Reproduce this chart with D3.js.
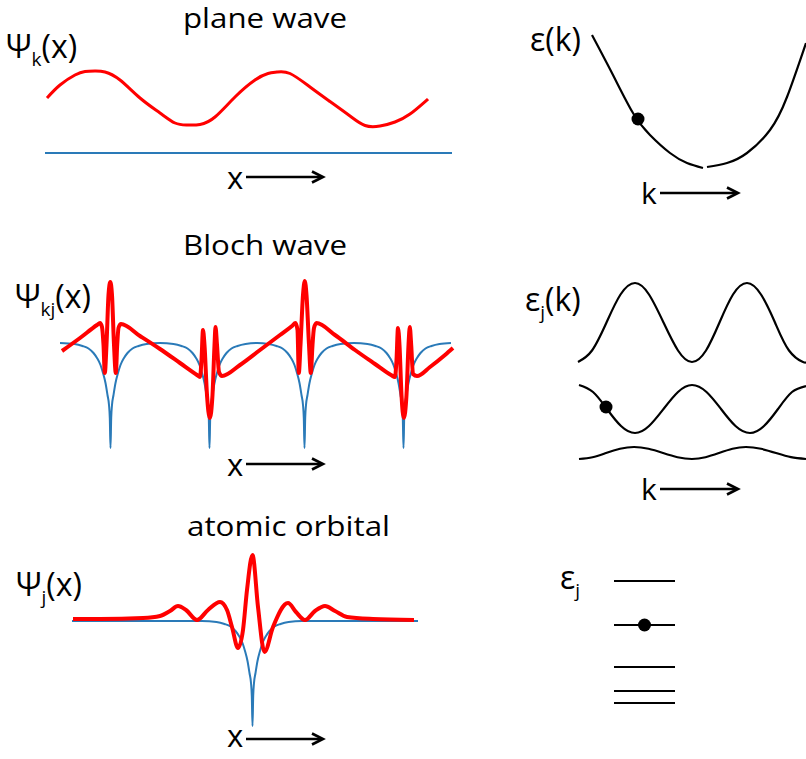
<!DOCTYPE html>
<html><head><meta charset="utf-8">
<script src="https://cdn.jsdelivr.net/npm/d3@7"></script>
<style>
body{margin:0;background:#fff}
svg{display:block}
text{font-family:'Open Sans',sans-serif;fill:#000}
</style>
</head><body>
<svg id="chart" width="806" height="759"></svg>
<script>
// ---------- DATA (arbitrary units) ----------
// Plane wave: position x and wave amplitude
const pwX   = [2,15,30,40,50,60,75,95,115,130,142,155,170,190,210,223,232,245,265,285,305,320,335,350,365,383];
const pwRe  = [55,68,78,81.5,82,81,73,55,40,30,28,28.5,36,56,73,79.5,81,79.5,66,51.5,37,27.5,27,31,39,54];
const pwAxisX = [0,407];

// Free-electron dispersion eps(k)
const ekLeftK  = [-113,-92,-72,-55,-35,-18,-2];
const ekLeftE  = [135,95,57,35,17,7,2];
const ekRightK = [2,22,42,65,82,101];
const ekRightE = [3,7,17,40,73,127];
const ekDotK = [-67], ekDotE = [51];

// Bloch wave: potential (blue) and wavefunction (red)
const bwPotX = [0,14.5,22.5,28.5,33.5,37,40.5,43,45.5,47.5,49,49.8,50.5,51.2,52,53.5,55.5,58,60.5,64,67.5,72.5,78.5,86.5,
  100,113.5,121.5,127.5,132.5,136,139.5,142,144.5,146.5,148,148.8,149.5,150.2,151,152.5,154.5,157,159.5,163,166.5,171.5,177.5,185.5,
  197,208.5,216.5,222.5,227.5,231,234.5,237,239.5,241.5,243,243.8,244.5,245.2,246,247.5,249.5,252,254.5,258,261.5,266.5,272.5,280.5,
  294,307.5,315.5,321.5,326.5,330,333.5,336,338.5,340.5,342,342.8,343.5,344.2,345,346.5,348.5,351,353.5,357,360.5,365.5,371.5,379.5,391];
const bwPotV = [0,-1,-3,-5.5,-10,-15,-22,-30,-40,-52,-62,-75,-105,-75,-62,-52,-40,-30,-22,-15,-10,-5.5,-3,-1,
  0,-1,-3,-5.5,-10,-15,-22,-30,-40,-52,-62,-75,-105,-75,-62,-52,-40,-30,-22,-15,-10,-5.5,-3,-1,
  0,-1,-3,-5.5,-10,-15,-22,-30,-40,-52,-62,-75,-105,-75,-62,-52,-40,-30,-22,-15,-10,-5.5,-3,-1,
  0,-1,-3,-5.5,-10,-15,-22,-30,-40,-52,-62,-75,-105,-75,-62,-52,-40,-30,-22,-15,-10,-5.5,-3,-1,0];
const bwPsiX = [2,20,37,40,42,43.5,44.8,46.5,48.5,50.3,52,54,55.8,57.2,58.5,61,80,100,120,137,140,141.5,143,144.5,147,149.8,152.5,154.5,155.5,157,159,162,
  180,200,220,232,235.5,237.5,238.8,240.5,243,244.8,246.5,249,250.8,252.5,254,256.5,275,295,315,331,335,336.5,338,339.5,341.5,343.8,346.5,348.5,349.8,351.2,353,357,370,385,393];
const bwPsiV = [-8,5,18,20,16,-2,-30,-2,48,61,48,-2,-30,-2,15,19,7,-6,-20,-32,-34,-17,13,-2,-52,-75,-52,-2,16,-2,-29,-33,
  -22,-7,8,17,20,13,-30,-2,48,62,48,-2,-30,-2,15,20,8,-7,-21,-32,-34,-17,15,-2,-52,-75,-52,-2,16,-2,-31,-33,-24,-12,-5];

// Band structure eps_j(k): three bands
const ebK1 = [0,14,28.5,42.5,57,71,85.5,100,114,128,141.5,155,169,183,197,211,225,228];
const ebE1 = [108,119.5,147.5,175.5,187,175.5,147.5,119.5,108,119.5,147.5,175.5,187,175.5,147.5,119.5,108,108.5];
const ebK2 = [1,15,29,43,57,71,85.5,100,114,128.5,143,157.5,172,186,200,214,228];
const ebE2 = [85,78,61,44,37,44,61,78,85,78,61,44,37,44,61,78,84];
const ebK3 = [1,14.5,28,42,56,70.5,85,99.5,114,127.5,141,154.5,168,183,198,213,228];
const ebE3 = [11,12.8,17,21.2,23,21.2,17,12.8,11,12.8,17,21.2,23,21.2,17,12.8,11];
const ebDotK = [28], ebDotE = [63];

// Atomic orbital: potential (blue) and wavefunction (red)
const aoPotX = [0,130,144.5,152.5,158.5,163.5,167,170.5,173,175.5,177.5,179,179.8,180.5,181.2,182,183.5,185.5,188,190.5,194,197.5,202.5,208.5,216.5,230,346];
const aoPotV = [0,0,-1,-3,-5.5,-10,-15,-22,-30,-40,-52,-62,-75,-105,-75,-62,-52,-40,-30,-22,-15,-10,-5.5,-3,-1,0,0];
const aoPsiX = [1,28,71,88,98,106,114,125,136,148,155,160,166,171,175,180.5,186,192.5,201,216,224,233,243,253,263,275,301,342];
const aoPsiV = [2,2,3,5,10,15,11,1,11,19,11,-6,-27,-9,31,66,14,-31,-6,18,9,1,10,15,10,4,2,1];

// Atomic energy levels eps_j
const levelE = [139,95,53,29,17];
const levelDotIndex = 1;

// ---------- DRAWING ----------
const svg = d3.select('#chart');
const RED = '#ff0000', BLUE = '#2a7ab8', BLACK = '#000';

function drawLine(xs, ys, sx, sy, color, width, curve){
  const pts = xs.map((x,i)=>[x, ys[i]]);
  svg.append('path').datum(pts)
    .attr('d', d3.line().x(d=>sx(d[0])).y(d=>sy(d[1])).curve(curve || d3.curveMonotoneX))
    .attr('fill','none').attr('stroke',color).attr('stroke-width',width)
    .attr('stroke-linejoin','round').attr('stroke-linecap','butt');
}
function dot(sx, sy, xs, ys, r){
  svg.selectAll(null).data(xs.map((x,i)=>[x,ys[i]])).enter().append('circle')
    .attr('cx',d=>sx(d[0])).attr('cy',d=>sy(d[1])).attr('r',r).attr('fill',BLACK);
}
function arrow(label, tx, ty, x1, x2, y, fs){
  svg.append('text').attr('x',tx).attr('y',ty).attr('font-size',fs).text(label);
  svg.append('line').attr('x1',x1).attr('x2',x2-1).attr('y1',y).attr('y2',y)
    .attr('stroke',BLACK).attr('stroke-width',2.6);
  svg.append('path').attr('d',`M${x2-11},${y-5.5} L${x2},${y} L${x2-11},${y+5.5}`)
    .attr('fill','none').attr('stroke',BLACK).attr('stroke-width',2.6).attr('stroke-linejoin','miter');
}
function label(x, y, main, sub, rest, fs, subfs, subdy){
  const t = svg.append('text').attr('x',x).attr('y',y).attr('font-size',fs);
  t.append('tspan').text(main);
  t.append('tspan').attr('font-size',subfs).attr('dy',subdy).text(sub);
  if(rest) t.append('tspan').attr('dy',-subdy).text(rest);
}
function title(txt, x, y, w){
  svg.append('text').attr('x',x).attr('y',y).attr('font-size',27)
    .attr('textLength',w).attr('lengthAdjust','spacingAndGlyphs').text(txt);
}

// Plane wave panel
{
  const sx = d3.scaleLinear().domain([0,407]).range([45,452]);
  const sy = d3.scaleLinear().domain([0,100]).range([153,53]);
  drawLine(pwAxisX, [0,0], sx, sy, BLUE, 2, d3.curveLinear);
  drawLine(pwX, pwRe, sx, sy, RED, 3, d3.curveNatural);
  title('plane wave', 183, 28, 164);
  label(6, 58, 'Ψ', 'k', '(x)', 32, 19, 8);
  arrow('x', 227, 189, 246, 323, 177, 31);
}
// eps(k) panel
{
  const sx = d3.scaleLinear().domain([-125,101]).range([580,806]);
  const sy = d3.scaleLinear().domain([0,135]).range([170,35]);
  drawLine(ekLeftK, ekLeftE, sx, sy, BLACK, 2.2, d3.curveNatural);
  drawLine(ekRightK, ekRightE, sx, sy, BLACK, 2.2, d3.curveNatural);
  dot(sx, sy, ekDotK, ekDotE, 6.5);
  label(530, 51, 'ε', '', '(k)', 32, 19, 0);
  arrow('k', 641, 204, 660, 738, 193, 30);
}
// Bloch wave panel
{
  const sx = d3.scaleLinear().domain([0,391]).range([60,451]);
  const sy = d3.scaleLinear().domain([-105,65]).range([448,278]);
  drawLine(bwPotX, bwPotV, sx, sy, BLUE, 2);
  drawLine(bwPsiX, bwPsiV, sx, sy, RED, 4);
  title('Bloch wave', 183, 255, 164);
  label(15, 308, 'Ψ', 'kj', '(x)', 32, 19, 8);
  arrow('x', 227, 476, 246, 323, 464, 31);
}
// band structure panel
{
  const sx = d3.scaleLinear().domain([0,228]).range([578,806]);
  const sy = d3.scaleLinear().domain([0,200]).range([470,270]);
  drawLine(ebK1, ebE1, sx, sy, BLACK, 2.2, d3.curveNatural);
  drawLine(ebK2, ebE2, sx, sy, BLACK, 2.2, d3.curveNatural);
  drawLine(ebK3, ebE3, sx, sy, BLACK, 2.2, d3.curveNatural);
  dot(sx, sy, ebDotK, ebDotE, 6.5);
  label(525, 311, 'ε', 'j', '(k)', 32, 19, 8);
  arrow('k', 641, 500, 660, 738, 489, 30);
}
// atomic orbital panel
{
  const sx = d3.scaleLinear().domain([0,346]).range([72,418]);
  const sy = d3.scaleLinear().domain([-105,70]).range([726,551]);
  drawLine(aoPotX, aoPotV, sx, sy, BLUE, 2);
  drawLine(aoPsiX, aoPsiV, sx, sy, RED, 4);
  title('atomic orbital', 187, 536, 203);
  label(16, 596, 'Ψ', 'j', '(x)', 32, 19, 8);
  arrow('x', 227, 747, 246, 323, 739, 31);
}
// energy levels panel
{
  const sx = d3.scaleLinear().domain([0,1]).range([614,675]);
  const sy = d3.scaleLinear().domain([0,150]).range([720,570]);
  svg.selectAll(null).data(levelE).enter().append('line')
    .attr('x1',sx(0)).attr('x2',sx(1)).attr('y1',d=>sy(d)).attr('y2',d=>sy(d))
    .attr('stroke',BLACK).attr('stroke-width',2.2);
  dot(sx, sy, [0.5], [levelE[levelDotIndex]], 6.5);
  label(560, 589, 'ε', 'j', '', 32, 19, 8);
}
</script>
</body></html>
